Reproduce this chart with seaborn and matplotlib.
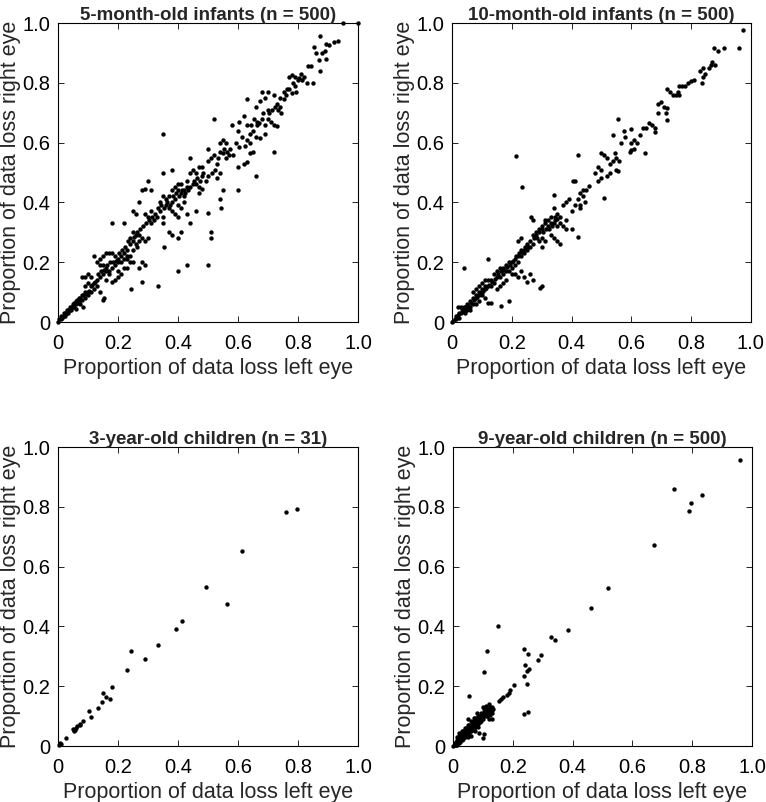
import numpy as np
import pandas as pd
import matplotlib
matplotlib.use('Agg')
import matplotlib.pyplot as plt
import seaborn as sns

# (left eye, right eye) proportion of data loss
inf5_pts = [
    (0.95, 1.0), (1.0, 1.0), (0.875, 0.955), (0.855, 0.92), (0.86, 0.90), (0.87, 0.875), (0.88, 0.90),
    (0.89, 0.905), (0.895, 0.88), (0.905, 0.925), (0.895, 0.93), (0.92, 0.935), (0.935, 0.94), (0.875, 0.84),
    (0.835, 0.855), (0.845, 0.855), (0.82, 0.82), (0.8, 0.81), (0.79, 0.82), (0.78, 0.825), (0.77, 0.82),
    (0.81, 0.83), (0.85, 0.80), (0.83, 0.80), (0.79, 0.79), (0.795, 0.77), (0.78, 0.765), (0.77, 0.78),
    (0.76, 0.76), (0.755, 0.745), (0.74, 0.75), (0.74, 0.72), (0.745, 0.70), (0.73, 0.73), (0.715, 0.71),
    (0.7, 0.71), (0.72, 0.76), (0.7, 0.77), (0.68, 0.77), (0.63, 0.745), (0.675, 0.74), (0.69, 0.75),
    (0.66, 0.72), (0.655, 0.68), (0.67, 0.665), (0.665, 0.66), (0.68, 0.68), (0.69, 0.66), (0.7, 0.68),
    (0.71, 0.67), (0.72, 0.66), (0.73, 0.655), (0.69, 0.63), (0.675, 0.615), (0.66, 0.62), (0.65, 0.64),
    (0.64, 0.63), (0.63, 0.66), (0.62, 0.69), (0.605, 0.67), (0.58, 0.66), (0.6, 0.64), (0.63, 0.61),
    (0.64, 0.6), (0.625, 0.59), (0.605, 0.585), (0.72, 0.57), (0.65, 0.57), (0.64, 0.565), (0.63, 0.535),
    (0.62, 0.53), (0.6, 0.52), (0.66, 0.49), (0.585, 0.56), (0.57, 0.56), (0.56, 0.55), (0.55, 0.565),
    (0.54, 0.57), (0.575, 0.58), (0.56, 0.6), (0.55, 0.61), (0.54, 0.6), (0.52, 0.68), (0.5, 0.58),
    (0.52, 0.56), (0.51, 0.55), (0.5, 0.54), (0.53, 0.53), (0.54, 0.5), (0.53, 0.48), (0.515, 0.5),
    (0.5, 0.49), (0.495, 0.47), (0.48, 0.49), (0.48, 0.52), (0.46, 0.5), (0.47, 0.52), (0.44, 0.55),
    (0.45, 0.51), (0.44, 0.5), (0.47, 0.45), (0.46, 0.46), (0.45, 0.46), (0.44, 0.45), (0.43, 0.45),
    (0.42, 0.44), (0.41, 0.43), (0.42, 0.42), (0.41, 0.46), (0.4, 0.46), (0.39, 0.45), (0.38, 0.44),
    (0.4, 0.44), (0.43, 0.47), (0.48, 0.445), (0.47, 0.43), (0.55, 0.44), (0.6, 0.44), (0.54, 0.41),
    (0.5, 0.365), (0.51, 0.30), (0.51, 0.28), (0.545, 0.38), (0.46, 0.37), (0.44, 0.33), (0.43, 0.36),
    (0.42, 0.4), (0.41, 0.38), (0.4, 0.35), (0.4, 0.39), (0.39, 0.41), (0.38, 0.40), (0.37, 0.42),
    (0.36, 0.41), (0.36, 0.39), (0.37, 0.38), (0.38, 0.37), (0.39, 0.36), (0.375, 0.39), (0.35, 0.42),
    (0.34, 0.4), (0.34, 0.37), (0.35, 0.35), (0.33, 0.35), (0.32, 0.34), (0.31, 0.33), (0.30, 0.35),
    (0.31, 0.37), (0.29, 0.36), (0.3, 0.47), (0.28, 0.44), (0.29, 0.445), (0.31, 0.44), (0.35, 0.5),
    (0.38, 0.51), (0.27, 0.4), (0.26, 0.36), (0.25, 0.37), (0.35, 0.63), (0.18, 0.33), (0.22, 0.33),
    (0.35, 0.33), (0.37, 0.3), (0.38, 0.29), (0.4, 0.28), (0.41, 0.3), (0.355, 0.25), (0.43, 0.19),
    (0.4, 0.17), (0.5, 0.19), (0.335, 0.12), (0.245, 0.11), (0.28, 0.135), (0.29, 0.19), (0.29, 0.27),
    (0.3, 0.28), (0.28, 0.28), (0.27, 0.29), (0.26, 0.29), (0.25, 0.3), (0.24, 0.28), (0.25, 0.27),
    (0.26, 0.26), (0.27, 0.27), (0.265, 0.25), (0.25, 0.24), (0.24, 0.26), (0.23, 0.24), (0.22, 0.23),
    (0.21, 0.22), (0.2, 0.21), (0.19, 0.22), (0.18, 0.23), (0.17, 0.23), (0.16, 0.23), (0.15, 0.22),
    (0.14, 0.21), (0.12, 0.22), (0.13, 0.2), (0.14, 0.19), (0.15, 0.19), (0.16, 0.18), (0.17, 0.17),
    (0.18, 0.18), (0.19, 0.19), (0.2, 0.2), (0.21, 0.2), (0.22, 0.21), (0.23, 0.22), (0.24, 0.22),
    (0.25, 0.2), (0.28, 0.2), (0.27, 0.18), (0.23, 0.18), (0.2, 0.15), (0.19, 0.14), (0.18, 0.135),
    (0.16, 0.14), (0.15, 0.075), (0.155, 0.08), (0.14, 0.1), (0.13, 0.12), (0.12, 0.13), (0.11, 0.15),
    (0.1, 0.16), (0.09, 0.15), (0.08, 0.15), (0.1, 0.13), (0.11, 0.12), (0.12, 0.11), (0.13, 0.14),
    (0.14, 0.15), (0.15, 0.16), (0.16, 0.17), (0.17, 0.16), (0.1, 0.1), (0.09, 0.1), (0.08, 0.09),
    (0.07, 0.08), (0.08, 0.075), (0.09, 0.08), (0.1, 0.09), (0.11, 0.1), (0.07, 0.07), (0.06, 0.06),
    (0.05, 0.05), (0.06, 0.07), (0.05, 0.06), (0.04, 0.05), (0.04, 0.04), (0.03, 0.03), (0.03, 0.04),
    (0.02, 0.02), (0.02, 0.03), (0.01, 0.01), (0.01, 0.02), (0.0, 0.0), (0.005, 0.01), (0.015, 0.015),
    (0.025, 0.02), (0.035, 0.03), (0.045, 0.04), (0.055, 0.05), (0.065, 0.065), (0.075, 0.06),
    (0.085, 0.05), (0.06, 0.045), (0.09, 0.12), (0.22, 0.18), (0.21, 0.16), (0.2, 0.17), (0.23, 0.21),
    (0.24, 0.2), (0.105, 0.105), (0.115, 0.125), (0.125, 0.135), (0.135, 0.16), (0.145, 0.17),
    (0.155, 0.175), (0.165, 0.19), (0.175, 0.2), (0.185, 0.2), (0.195, 0.205), (0.205, 0.23),
    (0.215, 0.24), (0.225, 0.25), (0.235, 0.27), (0.255, 0.285), (0.265, 0.3), (0.275, 0.31),
    (0.285, 0.32), (0.295, 0.33), (0.305, 0.34), (0.315, 0.35), (0.325, 0.36), (0.335, 0.38),
    (0.345, 0.39), (0.355, 0.38), (0.365, 0.4), (0.385, 0.42), (0.395, 0.43), (0.405, 0.42),
    (0.415, 0.44), (0.425, 0.43), (0.435, 0.44), (0.455, 0.47), (0.465, 0.48), (0.475, 0.47),
    (0.485, 0.5), (0.525, 0.51), (0.535, 0.55), (0.555, 0.58), (0.565, 0.57), (0.595, 0.6),
    (0.615, 0.62), (0.645, 0.66), (0.665, 0.67), (0.685, 0.7), (0.705, 0.7), (0.725, 0.72),
    (0.735, 0.71), (0.755, 0.77), (0.765, 0.78), (0.805, 0.815), (0.815, 0.81), (0.785, 0.8),
    (0.025, 0.03), (0.035, 0.04), (0.045, 0.05), (0.055, 0.065), (0.065, 0.075), (0.075, 0.08),
    (0.085, 0.09), (0.095, 0.095),
]

inf10_pts = [
    (0.975, 0.975), (0.96, 0.915), (0.91, 0.915), (0.89, 0.905), (0.875, 0.915), (0.87, 0.87),
    (0.865, 0.86), (0.86, 0.85), (0.84, 0.85), (0.83, 0.84), (0.845, 0.83), (0.84, 0.82), (0.88, 0.86),
    (0.835, 0.80), (0.81, 0.81), (0.8, 0.805), (0.79, 0.80), (0.78, 0.79), (0.77, 0.79), (0.76, 0.79),
    (0.755, 0.77), (0.75, 0.76), (0.74, 0.76), (0.76, 0.76), (0.73, 0.77), (0.72, 0.78), (0.7, 0.735),
    (0.69, 0.73), (0.71, 0.72), (0.715, 0.70), (0.72, 0.715), (0.72, 0.675), (0.69, 0.7), (0.68, 0.65),
    (0.68, 0.635), (0.67, 0.66), (0.66, 0.665), (0.65, 0.65), (0.64, 0.65), (0.645, 0.565), (0.63, 0.625),
    (0.62, 0.6), (0.61, 0.61), (0.6, 0.6), (0.6, 0.575), (0.595, 0.57), (0.61, 0.58), (0.6, 0.645),
    (0.58, 0.62), (0.575, 0.64), (0.565, 0.6), (0.555, 0.68), (0.54, 0.625), (0.545, 0.565), (0.55, 0.55),
    (0.56, 0.54), (0.54, 0.54), (0.55, 0.51), (0.555, 0.505), (0.53, 0.53), (0.52, 0.55), (0.51, 0.56),
    (0.5, 0.565), (0.53, 0.5), (0.52, 0.49), (0.5, 0.51), (0.49, 0.52), (0.5, 0.48), (0.49, 0.47),
    (0.48, 0.5), (0.51, 0.415), (0.46, 0.455), (0.45, 0.44), (0.44, 0.44), (0.43, 0.43), (0.44, 0.42),
    (0.445, 0.40), (0.43, 0.39), (0.43, 0.38), (0.42, 0.56), (0.41, 0.47), (0.405, 0.47), (0.42, 0.41),
    (0.41, 0.39), (0.39, 0.41), (0.38, 0.40), (0.37, 0.39), (0.4, 0.37), (0.38, 0.34), (0.36, 0.33),
    (0.35, 0.345), (0.345, 0.35), (0.34, 0.38), (0.35, 0.36), (0.33, 0.33), (0.32, 0.32), (0.325, 0.31),
    (0.31, 0.33), (0.3, 0.32), (0.31, 0.34), (0.3, 0.31), (0.29, 0.3), (0.28, 0.29), (0.27, 0.29),
    (0.3, 0.28), (0.29, 0.27), (0.31, 0.27), (0.33, 0.29), (0.34, 0.28), (0.35, 0.27), (0.36, 0.26),
    (0.37, 0.32), (0.38, 0.31), (0.4, 0.31), (0.42, 0.285), (0.3, 0.25), (0.27, 0.34), (0.265, 0.35),
    (0.34, 0.425), (0.215, 0.555), (0.235, 0.45), (0.27, 0.26), (0.26, 0.25), (0.25, 0.24), (0.24, 0.23),
    (0.23, 0.24), (0.22, 0.22), (0.21, 0.21), (0.23, 0.28), (0.22, 0.27), (0.2, 0.2), (0.19, 0.2),
    (0.18, 0.19), (0.17, 0.18), (0.16, 0.18), (0.15, 0.17), (0.14, 0.16), (0.13, 0.14), (0.12, 0.14),
    (0.12, 0.21), (0.15, 0.15), (0.14, 0.13), (0.13, 0.12), (0.12, 0.12), (0.11, 0.12), (0.1, 0.11),
    (0.09, 0.1), (0.08, 0.09), (0.07, 0.08), (0.065, 0.065), (0.06, 0.07), (0.05, 0.06), (0.05, 0.05),
    (0.04, 0.04), (0.035, 0.045), (0.03, 0.03), (0.02, 0.025), (0.015, 0.02), (0.01, 0.01),
    (0.005, 0.005), (0.0, 0.0), (0.02, 0.05), (0.03, 0.05), (0.04, 0.18), (0.06, 0.05), (0.07, 0.06),
    (0.08, 0.08), (0.09, 0.09), (0.1, 0.1), (0.11, 0.11), (0.16, 0.15), (0.17, 0.16), (0.18, 0.17),
    (0.19, 0.17), (0.2, 0.16), (0.21, 0.16), (0.22, 0.15), (0.23, 0.17), (0.24, 0.15), (0.26, 0.16),
    (0.27, 0.14), (0.25, 0.135), (0.3, 0.12), (0.295, 0.115), (0.19, 0.07), (0.165, 0.055), (0.12, 0.065),
    (0.13, 0.065), (0.1, 0.09), (0.11, 0.08), (0.15, 0.11), (0.16, 0.12), (0.17, 0.13), (0.18, 0.14),
    (0.2, 0.18), (0.21, 0.19), (0.22, 0.2), (0.23, 0.22), (0.24, 0.24), (0.25, 0.26), (0.26, 0.27),
    (0.28, 0.3), (0.29, 0.31), (0.32, 0.34), (0.33, 0.35), (0.34, 0.33), (0.35, 0.32), (0.36, 0.35),
    (0.06, 0.04), (0.08, 0.06), (0.09, 0.07), (0.045, 0.03), (0.025, 0.015), (0.07, 0.1), (0.08, 0.11),
    (0.09, 0.12), (0.1, 0.13), (0.11, 0.14), (0.05, 0.04), (0.04, 0.05), (0.015, 0.01), (0.025, 0.03),
    (0.035, 0.035), (0.045, 0.05), (0.055, 0.055), (0.075, 0.075), (0.085, 0.085), (0.095, 0.095),
    (0.105, 0.105), (0.115, 0.115), (0.125, 0.125), (0.135, 0.135), (0.145, 0.145), (0.155, 0.16),
    (0.165, 0.17), (0.175, 0.175), (0.185, 0.185), (0.195, 0.19), (0.205, 0.205), (0.215, 0.22),
    (0.225, 0.23), (0.235, 0.235), (0.245, 0.25), (0.255, 0.25), (0.275, 0.28), (0.285, 0.28),
    (0.305, 0.3), (0.315, 0.31), (0.335, 0.32), (0.345, 0.34),
]

yr3_pts = [
    (0.798, 0.794), (0.759, 0.783), (0.614, 0.653), (0.495, 0.532), (0.565, 0.474), (0.414, 0.417),
    (0.395, 0.393), (0.335, 0.339), (0.244, 0.317), (0.290, 0.291), (0.230, 0.253), (0.179, 0.196),
    (0.149, 0.176), (0.160, 0.163), (0.173, 0.156), (0.148, 0.147), (0.132, 0.126), (0.105, 0.118),
    (0.111, 0.097), (0.084, 0.085), (0.073, 0.070), (0.065, 0.067), (0.050, 0.058), (0.058, 0.052),
    (0.055, 0.049), (0.028, 0.026), (0.008, 0.011), (0.009, 0.008), (0.060, 0.060), (0.075, 0.072),
    (0.005, 0.005),
]

yr9_pts = [
    (0.959, 0.957), (0.739, 0.859), (0.834, 0.840), (0.796, 0.812), (0.790, 0.786), (0.673, 0.673),
    (0.517, 0.527), (0.463, 0.462), (0.385, 0.389), (0.329, 0.363), (0.341, 0.353), (0.150, 0.403),
    (0.113, 0.318), (0.105, 0.246), (0.238, 0.323), (0.251, 0.309), (0.294, 0.304), (0.285, 0.287),
    (0.242, 0.271), (0.254, 0.258), (0.249, 0.251), (0.239, 0.234), (0.247, 0.207), (0.203, 0.203),
    (0.189, 0.189), (0.187, 0.178), (0.179, 0.169), (0.166, 0.163), (0.159, 0.158), (0.153, 0.152),
    (0.054, 0.166), (0.251, 0.113), (0.236, 0.107), (0.100, 0.028), (0.105, 0.039), (0.087, 0.042),
    (0.129, 0.092), (0.11, 0.13), (0.12, 0.12), (0.13, 0.12), (0.12, 0.14), (0.11, 0.11), (0.10, 0.13),
    (0.10, 0.10), (0.09, 0.10), (0.09, 0.09), (0.08, 0.09), (0.08, 0.08), (0.07, 0.08), (0.07, 0.07),
    (0.065, 0.065), (0.06, 0.07), (0.06, 0.06), (0.055, 0.055), (0.05, 0.06), (0.05, 0.05), (0.045, 0.05),
    (0.04, 0.045), (0.04, 0.04), (0.035, 0.035), (0.03, 0.035), (0.03, 0.03), (0.025, 0.03), (0.02, 0.025),
    (0.02, 0.02), (0.015, 0.02), (0.015, 0.015), (0.01, 0.01), (0.01, 0.015), (0.005, 0.005), (0.0, 0.0),
    (0.005, 0.01), (0.02, 0.045), (0.03, 0.05), (0.05, 0.09), (0.06, 0.085), (0.04, 0.03), (0.05, 0.04),
    (0.06, 0.05), (0.07, 0.06), (0.08, 0.07), (0.09, 0.08), (0.1, 0.09), (0.11, 0.1), (0.12, 0.11),
    (0.13, 0.13), (0.125, 0.125), (0.115, 0.12), (0.105, 0.115), (0.095, 0.1), (0.085, 0.095),
    (0.075, 0.085), (0.065, 0.07), (0.08, 0.11), (0.07, 0.095), (0.12, 0.09), (0.115, 0.1), (0.05, 0.07),
    (0.04, 0.06), (0.03, 0.02), (0.02, 0.01), (0.01, 0.005), (0.025, 0.025), (0.035, 0.04), (0.045, 0.045),
    (0.055, 0.06), (0.065, 0.06), (0.075, 0.075), (0.085, 0.085), (0.095, 0.095), (0.105, 0.105),
    (0.11, 0.135), (0.105, 0.125), (0.13, 0.11), (0.125, 0.105), (0.06, 0.035), (0.05, 0.03),
    (0.075, 0.05), (0.085, 0.065), (0.015, 0.005), (0.025, 0.015), (0.035, 0.025), (0.045, 0.035),
    (0.055, 0.045), (0.065, 0.055), (0.075, 0.065), (0.085, 0.075), (0.095, 0.085), (0.015, 0.03),
    (0.025, 0.04), (0.035, 0.05), (0.045, 0.06), (0.055, 0.07), (0.065, 0.08), (0.075, 0.095),
    (0.085, 0.1), (0.095, 0.11), (0.115, 0.125), (0.125, 0.13), (0.135, 0.125), (0.02, 0.035),
    (0.03, 0.04), (0.04, 0.05), (0.06, 0.065), (0.07, 0.075), (0.08, 0.085), (0.09, 0.095),
]

titles = ['5-month-old infants (n = 500)', '10-month-old infants (n = 500)',
          '3-year-old children (n = 31)', '9-year-old children (n = 500)']
tick_vals = [0, 0.2, 0.4, 0.6, 0.8, 1.0]
tick_labels = ['0', '0.2', '0.4', '0.6', '0.8', '1.0']

sns.set_style('ticks')
plt.rcParams['font.family'] = ['Liberation Sans', 'DejaVu Sans']

fig = plt.figure(figsize=(7.66, 8.02), dpi=100)
# axes boxes [left, bottom, width, height] in figure fractions
boxes = [
    [0.0757, 0.5985, 0.3916, 0.3728],
    [0.5900, 0.5985, 0.3903, 0.3728],
    [0.0757, 0.0698, 0.3916, 0.3728],
    [0.5914, 0.0698, 0.3903, 0.3728],
]

for pts, title, box in zip([inf5_pts, inf10_pts, yr3_pts, yr9_pts], titles, boxes):
    ax = fig.add_axes(box)
    df = pd.DataFrame(pts, columns=['left', 'right'])
    sns.scatterplot(data=df, x='left', y='right', ax=ax, color='black', s=10,
                    linewidth=0, clip_on=False)
    ax.set_xlim(0, 1)
    ax.set_ylim(0, 1)
    ax.set_xticks(tick_vals)
    ax.set_xticklabels(tick_labels)
    ax.set_yticks(tick_vals)
    ax.set_yticklabels(tick_labels)
    ax.tick_params(direction='in', length=4, width=0.6, top=True, right=True,
                   labelsize=14.5, colors='black')
    ax.tick_params(axis='x', pad=8.5)
    ax.tick_params(axis='y', pad=5.5)
    for sp in ax.spines.values():
        sp.set_visible(True)
        sp.set_linewidth(0.8)
        sp.set_color('black')
    ax.set_xlabel('Proportion of data loss left eye', fontsize=15.5, labelpad=4)
    ax.set_ylabel('Proportion of data loss right eye', fontsize=15.5, labelpad=1)
    ax.set_title(title, fontsize=13.5, fontweight='bold', pad=2)

fig.savefig('out.png', dpi=100)
